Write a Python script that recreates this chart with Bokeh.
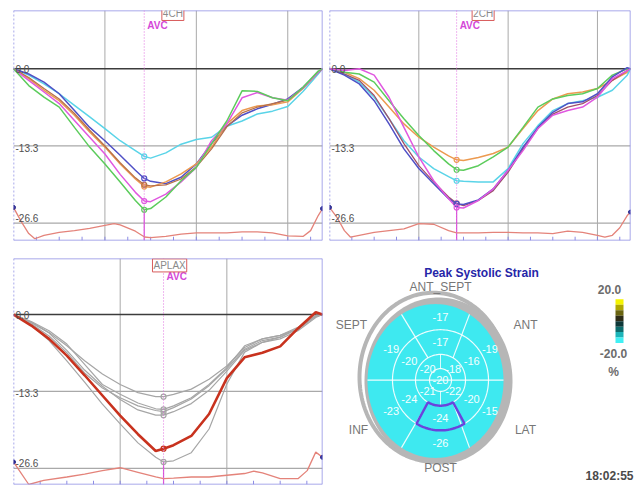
import numpy as np
from bokeh.plotting import figure
from bokeh.models import Range1d, Span, Label
from bokeh.layouts import column, row
from bokeh.core.properties import value
from bokeh.embed import file_html
from bokeh.resources import INLINE

FONT = "Liberation Sans"

# ---------------- data ----------------
strain_ticks = [0.0, -13.3, -26.6]
strain_tick_labels = ["0.0", "-13.3", "-26.6"]

# 4CH view (time in ms, strain in %)
t_4ch = [0, 50, 100, 150, 200, 250, 300, 350, 400, 429, 450, 500, 550, 600, 650, 700, 750, 800, 850, 900, 950, 1000, 1014]
s4_cyan = [0, -1.1, -2.6, -4.3, -6.3, -8.3, -10.3, -12.4, -14.1, -15.1, -15.4, -14.5, -13.0, -12.2, -11.8, -9.9, -9.0, -7.8, -7.3, -6.5, -3.9, -0.9, 0]
s4_blue = [0, -0.9, -2.3, -4.3, -7.2, -10.1, -12.4, -14.9, -17.5, -18.9, -19.4, -19.8, -18.7, -16.4, -12.9, -9.9, -8.0, -6.9, -6.1, -5.2, -3.2, -0.6, 0]
s4_orange = [0, -1.7, -3.7, -5.5, -8.0, -10.9, -13.5, -16.4, -19.0, -20.3, -20.4, -19.5, -18.1, -16.4, -13.5, -9.5, -7.2, -6.4, -6.2, -5.7, -3.4, -0.6, 0]
s4_brown = [0, -1.5, -3.4, -5.2, -7.7, -10.6, -13.3, -16.2, -18.8, -20.0, -20.2, -20.0, -19.0, -16.9, -13.8, -10.0, -7.6, -6.6, -6.0, -5.4, -3.3, -0.6, 0]
s4_magenta = [0, -2.0, -4.0, -6.0, -8.9, -11.8, -14.7, -18.2, -21.3, -22.8, -22.9, -21.6, -19.5, -17.0, -12.4, -9.5, -5.0, -4.1, -5.0, -5.4, -3.3, -0.6, 0]
s4_green = [0, -2.9, -4.9, -6.6, -10.1, -13.5, -16.4, -19.5, -22.7, -24.3, -24.1, -22.1, -19.3, -17.0, -12.9, -9.0, -3.8, -3.9, -5.0, -5.5, -3.2, -0.4, 0]
e_t_4ch = [0, 25, 50, 70, 100, 150, 200, 250, 300, 330, 350, 400, 430, 450, 500, 550, 600, 650, 700, 750, 800, 850, 900, 950, 975, 1000, 1014]
e_v_4ch = [-23.9, -26.3, -28.4, -29.3, -28.7, -28.2, -27.9, -27.5, -27.0, -26.7, -26.9, -28.0, -29.0, -29.1, -28.9, -28.5, -28.3, -28.3, -28.3, -28.1, -28.1, -28.3, -28.8, -28.9, -27.9, -25.3, -24.1]
avc_4ch = 429

# 2CH view
t_2ch = [0, 50, 100, 150, 200, 250, 300, 350, 400, 427, 450, 500, 550, 600, 650, 700, 750, 800, 850, 900, 950, 1000, 1011]
s2_orange = [0, -0.6, -1.7, -3.7, -6.6, -9.5, -11.8, -13.5, -15.0, -15.7, -15.8, -15.3, -14.6, -13.5, -10.3, -7.2, -5.2, -4.3, -4.0, -3.4, -2.0, -0.6, 0]
s2_green = [0, -0.6, -0.9, -2.3, -5.5, -8.6, -11.5, -14.1, -16.4, -17.4, -17.5, -16.7, -15.2, -13.5, -10.1, -6.6, -5.2, -4.6, -4.3, -3.4, -1.1, 0, 0]
s2_cyan = [0, -0.9, -2.3, -4.9, -8.6, -12.4, -15.2, -17.2, -18.6, -19.3, -19.4, -19.5, -19.5, -17.2, -12.9, -9.8, -7.2, -6.0, -5.5, -4.9, -3.7, -1.1, 0]
s2_blue = [0, -1.1, -2.6, -5.5, -9.5, -13.8, -17.2, -19.8, -22.4, -23.3, -23.4, -22.6, -20.7, -17.5, -13.5, -10.1, -7.5, -6.0, -5.7, -4.3, -1.4, 0.2, 0]
s2_magenta = [0, -0.3, 0, -1.1, -4.9, -10.1, -15.2, -19.3, -22.4, -23.9, -24.0, -22.7, -20.7, -17.5, -14.1, -10.3, -8.0, -7.2, -6.6, -4.9, -1.7, -0.3, 0]
s2_brown = [0, -0.9, -2.0, -4.6, -8.6, -12.9, -16.7, -19.5, -22.1, -23.2, -23.6, -22.7, -21.0, -17.8, -13.8, -10.3, -7.8, -6.6, -6.0, -4.6, -2.0, -0.3, 0]
e_t_2ch = [0, 25, 50, 70, 100, 150, 200, 250, 300, 350, 400, 427, 450, 500, 550, 600, 650, 700, 750, 800, 850, 900, 925, 950, 975, 1000, 1011]
e_v_2ch = [-23.9, -25.6, -27.9, -29.0, -28.7, -28.2, -27.9, -27.6, -26.7, -26.8, -27.9, -28.3, -28.3, -28.3, -28.2, -28.2, -28.3, -28.3, -28.4, -28.0, -28.2, -28.7, -29.0, -28.7, -27.4, -25.3, -24.7]
avc_2ch = 427

# APLAX view
t_lax = [0, 50, 100, 150, 200, 250, 300, 350, 400, 422, 450, 500, 550, 600, 650, 700, 750, 800, 850, 869]
sl_red = [0, -1.9, -4.2, -7.1, -10.5, -14.0, -17.5, -20.7, -23.6, -23.2, -22.6, -21.0, -17.2, -11.0, -7.4, -6.6, -5.5, -2.4, 0.4, 0]
sl_gray1 = [0, -1.3, -3.1, -5.4, -8.0, -10.3, -12.1, -13.5, -14.2, -14.2, -13.8, -12.9, -11.2, -8.9, -5.7, -4.2, -3.6, -2.2, -0.3, 0]
sl_gray2 = [0, -1.6, -3.7, -6.6, -10.1, -12.7, -14.4, -15.8, -16.6, -16.8, -16.1, -14.6, -12.3, -9.4, -6.0, -4.5, -3.9, -2.5, -0.3, 0]
sl_gray3 = [0, -1.4, -3.2, -6.2, -9.6, -12.4, -14.7, -16.5, -17.4, -17.4, -16.8, -15.4, -13.1, -9.8, -6.2, -4.8, -4.2, -2.8, -0.5, 0]
sl_gray4 = [0, -1.8, -4.5, -8.0, -11.7, -15.5, -18.9, -22.2, -24.7, -25.5, -25.3, -23.9, -19.8, -12.0, -6.5, -4.8, -3.9, -2.4, -0.1, 0]
sl_gray5 = [0, -1.2, -2.8, -5.1, -8.6, -12.1, -13.8, -15.3, -16.3, -16.4, -15.8, -14.4, -12.1, -9.2, -5.4, -4.2, -3.6, -2.5, -0.3, 0]
e_t_lax = [0, 43, 85, 150, 200, 250, 300, 350, 400, 422, 450, 500, 550, 600, 650, 676, 700, 750, 800, 826, 850, 869]
e_v_lax = [-25.5, -29.4, -28.7, -28.1, -27.6, -27.0, -26.5, -27.3, -28.1, -28.4, -28.3, -28.1, -28.1, -27.8, -27.5, -27.1, -27.4, -28.4, -28.4, -27.0, -23.8, -24.7]
avc_lax = 422

# Bull's eye: peak systolic strain per segment (%)
basal_vals = [-17, -19, -15, -26, -23, -19]   # ANT_SEPT, ANT, LAT, POST, INF, SEPT
mid_vals = [-17, -16, -20, -24, -24, -20]
apical_vals = [-18, -22, -21, -20]            # upper-right, lower-right, lower-left, upper-left
apex_val = -20
wall_names = ["ANT_SEPT", "ANT", "LAT", "POST", "INF", "SEPT"]
scale_palette = ["#f4f400", "#b0a800", "#6a6410", "#2e2c18", "#0e3838", "#0c6c6c", "#1cb4b8", "#40f0f4"]
scale_labels = ["20.0", "-20.0", "%"]
clock_text = "18:02:55"

# ---------------- style ----------------
FRAME = "#8c8ce4"
GRID = "#a9a9a9"
C_CYAN, C_BLUE, C_ORANGE = "#5ad4e8", "#5050c6", "#ec9a50"
C_BROWN, C_MAGENTA, C_GREEN = "#b8704a", "#e058e0", "#5ccc5c"
C_GRAY, C_RED = "#a6a6a6", "#c8321e"


def strain_panel(width, height, borders, t_max, y_lo, y_hi, grid_t, curves,
                 ecg_t, ecg_v, avc_t, view, view_t, view_y, avc_label_y):
    p = figure(width=width, height=height, x_range=Range1d(0, t_max), y_range=Range1d(y_lo, y_hi),
               output_backend="svg", toolbar_location=None,
               x_axis_location=None, y_axis_location=None,
               min_border_left=borders[0], min_border_right=borders[1],
               min_border_top=borders[2], min_border_bottom=borders[3])
    p.grid.visible = False
    p.outline_line_color = None
    p.background_fill_color = "white"
    p.border_fill_color = "white"
    for g in grid_t:
        p.add_layout(Span(location=g, dimension="height", line_color=GRID, line_width=1, level="underlay"))
    for v in strain_ticks:
        if v == 0:
            p.add_layout(Span(location=v, dimension="width", line_color="#3c3c3c", line_width=1.6, level="underlay"))
        else:
            p.add_layout(Span(location=v, dimension="width", line_color=GRID, line_width=1.2, level="underlay"))
    # frame edges
    p.add_layout(Span(location=y_hi, dimension="width", line_color=FRAME, line_width=1.5))
    p.add_layout(Span(location=y_lo, dimension="width", line_color=FRAME, line_width=1.5))
    p.add_layout(Span(location=t_max, dimension="height", line_color=FRAME, line_width=1.5))
    p.add_layout(Span(location=0, dimension="height", line_color=FRAME, line_width=1.5, line_dash="2 2"))
    # minor time ticks along the bottom
    mt = np.arange(75, t_max, 75)
    p.segment(x0=mt, y0=np.full(len(mt), y_lo), x1=mt, y1=np.full(len(mt), y_lo + 0.65),
              line_color=FRAME, line_width=1)
    # AVC marker line
    p.add_layout(Span(location=avc_t, dimension="height", line_color="#e070e0", line_dash="1 2", line_width=1))
    at_avc = [float(np.interp(avc_t, t, v)) for (t, v, c, w) in curves]
    p.segment(x0=[avc_t], y0=[min(at_avc)], x1=[avc_t], y1=[y_lo], line_color="#d84cd8", line_width=1.2)
    # ECG-like trace
    p.line(ecg_t, ecg_v, line_color="#e4837a", line_width=1.3)
    p.scatter([ecg_t[0], ecg_t[-1]], [ecg_v[0], ecg_v[-1]], marker="circle", size=4, color="#23238a")
    # strain curves
    for t, v, c, w in curves:
        p.line(t, v, line_color=c, line_width=w)
    for (t, v, c, w), ya in zip(curves, at_avc):
        p.scatter([avc_t], [ya], marker="circle", size=5, fill_color=None, line_color=c, line_width=1.2)
    # tick labels
    baselines = ["middle", "middle", "bottom"]
    yoffs = [0, 2, -1]
    for v, lab, bl, yo in zip(strain_ticks, strain_tick_labels, baselines, yoffs):
        p.text(x=[0], y=[v], text=[lab], x_offset=2, y_offset=yo, text_baseline=bl, text_align="left",
               text_font=value(FONT), text_font_size="10px", text_color="#505050")
    p.text(x=[avc_t], y=[avc_label_y], text=["AVC"], x_offset=3, text_baseline="middle", text_align="left",
           text_font=value(FONT), text_font_size="10px", text_font_style="bold", text_color="#d448d8")
    p.add_layout(Label(x=view_t, y=view_y, text=view, text_align="center", text_baseline="middle",
                       text_font=FONT, text_font_size="10px", text_color="#8a8a8a",
                       background_fill_color="white", border_line_color="#d85c5c", border_line_width=1,
                       padding=1))
    return p


curves_4ch = [(t_4ch, s4_cyan, C_CYAN, 1.5), (t_4ch, s4_blue, C_BLUE, 1.5), (t_4ch, s4_orange, C_ORANGE, 1.5),
              (t_4ch, s4_brown, C_BROWN, 1.3), (t_4ch, s4_magenta, C_MAGENTA, 1.5), (t_4ch, s4_green, C_GREEN, 1.5)]
curves_2ch = [(t_2ch, s2_orange, C_ORANGE, 1.5), (t_2ch, s2_green, C_GREEN, 1.5), (t_2ch, s2_cyan, C_CYAN, 1.5),
              (t_2ch, s2_brown, "#a0506a", 1.3), (t_2ch, s2_blue, C_BLUE, 1.5), (t_2ch, s2_magenta, C_MAGENTA, 1.5)]
curves_lax = [(t_lax, sl_gray1, C_GRAY, 1.2), (t_lax, sl_gray2, C_GRAY, 1.2), (t_lax, sl_gray3, C_GRAY, 1.2),
              (t_lax, sl_gray4, C_GRAY, 1.2), (t_lax, sl_gray5, C_GRAY, 1.2), (t_lax, sl_red, C_RED, 2.6)]

p1 = strain_panel(325, 247, (13, 3, 10, 7), 1014, -29.6, 10.05, [300, 600, 900], curves_4ch,
                  e_t_4ch, e_v_4ch, avc_4ch, "4CH", 523, 9.45, 7.5)
p2 = strain_panel(311, 247, (4, 6, 10, 7), 1011, -29.6, 10.05, [300, 600, 900], curves_2ch,
                  e_t_2ch, e_v_2ch, avc_2ch, "2CH", 516, 9.45, 7.5)
p3 = strain_panel(325, 238, (13, 3, 11, 1), 869, -29.4, 9.7, [300, 600], curves_lax,
                  e_t_lax, e_v_lax, avc_lax, "APLAX", 439, 8.5, 6.5)

# ---------------- bull's eye panel (data units = page pixels) ----------------
p4 = figure(width=311, height=238, x_range=Range1d(325, 636), y_range=Range1d(485, 247),
            output_backend="svg", toolbar_location=None, x_axis_location=None, y_axis_location=None,
            min_border=0)
p4.grid.visible = False
p4.outline_line_color = None
p4.background_fill_color = "white"
p4.border_fill_color = "white"


def ell(cx, cy, a, b, th0=0.0, th1=360.0, n=181):
    th = np.radians(np.linspace(th0, th1, n))
    return cx + a * np.cos(th), cy - b * np.sin(th)


RING_GRAY = "#b6b6b6"
CYAN_FILL = "#3ee9f0"
CX, CY = 440, 375
EX, EY, EA, EB = 435, 376, 68, 81
R_MID, R_AP, R_CAP = (48, 53), (25, 27), (11, 12)

xs, ys = ell(433, 372, 74, 89)
p4.line(xs, ys, line_color=RING_GRAY, line_width=4)
xs, ys = ell(438, 376, 74, 88)
p4.patch(xs, ys, fill_color=RING_GRAY, line_color=None)
xs, ys = ell(EX, EY, EA, EB)
p4.patch(xs, ys, fill_color=CYAN_FILL, line_color=None)

# segment divider lines
for ra, rb in (R_MID, R_AP, R_CAP):
    xs, ys = ell(CX, CY, ra, rb)
    p4.line(xs, ys, line_color="white", line_width=1.2, line_alpha=0.9)
for ang in (60, 120, 240, 300):
    th = np.radians(ang)
    x0, y0 = CX + R_AP[0] * np.cos(th), CY - R_AP[1] * np.sin(th)
    x1, y1 = EX + EA * np.cos(th), EY - EB * np.sin(th)
    p4.segment(x0=[x0], y0=[y0], x1=[x1], y1=[y1], line_color="white", line_width=1.2, line_alpha=0.9)
p4.segment(x0=[EX - EA], y0=[CY], x1=[EX + EA], y1=[CY], line_color="white", line_width=1.2, line_alpha=0.9)
for ang in (90, 270):
    th = np.radians(ang)
    p4.segment(x0=[CX + R_CAP[0] * np.cos(th)], y0=[CY - R_CAP[1] * np.sin(th)],
               x1=[CX + R_AP[0] * np.cos(th)], y1=[CY - R_AP[1] * np.sin(th)],
               line_color="white", line_width=1.0, line_alpha=0.8)

# highlighted segment (mid posterior)
ax, ay = ell(CX, CY, R_AP[0], R_AP[1], 240, 300, 30)
bx, by = ell(CX, CY, R_MID[0], R_MID[1], 300, 240, 30)
p4.patch(np.concatenate([ax, bx]), np.concatenate([ay, by]), fill_alpha=0,
         line_color="#6a44dc", line_width=2.5)

# segment values
six_angles = np.radians([90, 30, -30, -90, -150, 150])
four_angles = np.radians([45, -45, -135, 135])
lab_x = list(CX + 57 * np.cos(six_angles)) + list(CX + 36 * np.cos(six_angles)) + \
    list(CX + 18 * np.cos(four_angles)) + [CX]
lab_y = list(CY - 66 * np.sin(six_angles)) + list(CY - 40 * np.sin(six_angles)) + \
    list(CY - 17 * np.sin(four_angles)) + [CY]
lab_t = [str(v) for v in basal_vals + mid_vals + apical_vals + [apex_val]]
p4.text(x=lab_x, y=lab_y, text=lab_t, text_align="center", text_baseline="middle",
        text_font=value(FONT), text_font_size="11px", text_color="#f4ffff")

# wall names
wall_x = [440, 525, 525, 440, 358, 351]
wall_y = [277, 317, 428, 468, 428, 317]
p4.text(x=wall_x, y=wall_y, text=wall_names, text_align="center", text_baseline="middle",
        text_font=value(FONT), text_font_size="12px", text_color="#777777")

p4.text(x=[481], y=[262], text=["Peak Systolic Strain"], text_align="center", text_baseline="middle",
        text_font=value(FONT), text_font_size="12px", text_font_style="bold", text_color="#2626a8")

# colour scale
edges = np.linspace(290, 336, len(scale_palette) + 1)
p4.quad(left=np.full(len(scale_palette), 615), right=np.full(len(scale_palette), 623),
        top=edges[:-1], bottom=edges[1:], fill_color=scale_palette, line_color=None)
p4.text(x=[609, 613, 613], y=[280, 347, 367], text=scale_labels, text_align="center", text_baseline="middle",
        text_font=value(FONT), text_font_size="12px", text_font_style="bold", text_color="#6c6c6c")
p4.text(x=[633], y=[476], text=[clock_text], text_align="right", text_baseline="middle",
        text_font=value(FONT), text_font_size="12px", text_font_style="bold", text_color="#4a4a4a")

layout = column(row(p1, p2), row(p3, p4))
open("out.html", "w").write(file_html(layout, INLINE))
